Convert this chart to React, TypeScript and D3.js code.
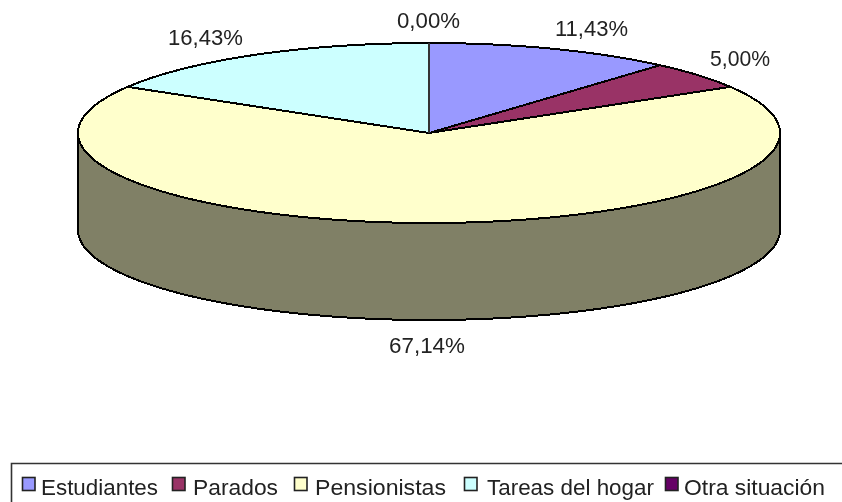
import React from "react";
import * as d3 from "d3";

const categories = ["Estudiantes", "Parados", "Pensionistas", "Tareas del hogar", "Otra situación"];
const values = [11.43, 5.0, 67.14, 16.43, 0.0];
const valueLabels = ["11,43%", "5,00%", "67,14%", "16,43%", "0,00%"];
const colors = ["#9999ff", "#993366", "#ffffcc", "#ccffff", "#660066"];
const sideColors = ["#4d4d80", "#4d1a33", "#808066", "#668080", "#330033"];
// label box: left, right, baseline
const labelBoxes: [number, number, number][] = [[555, 628, 36], [710, 770, 66], [389, 465, 353], [168, 243, 45], [397, 460, 28]];
const legendSwatch = [22, 172, 294, 464, 665];
const legendText: [number, number][] = [[41, 158], [193, 278], [315, 446], [487, 654], [684, 825]];

const F = "'Liberation Sans', Arial, sans-serif";
const cx = 429, cy = 133, rx = 351, ry = 90, depth = 97;
const sx = d3.scaleLinear().domain([-1, 1]).range([cx - rx, cx + rx]);
const sy = d3.scaleLinear().domain([-1, 1]).range([cy - ry, cy + ry]);
const pt = (a: number, dy = 0): [number, number] => [sx(Math.sin(a)), sy(-Math.cos(a)) + dy];

const arcs = d3.pie<number>().sort(null).startAngle(0).endAngle(2 * Math.PI)(values);
const line = d3.line();

function wedge(a0: number, a1: number) {
  const n = Math.max(2, Math.ceil((a1 - a0) * 60));
  const pts: [number, number][] = [[cx, cy]];
  for (let i = 0; i <= n; i++) pts.push(pt(a0 + ((a1 - a0) * i) / n));
  return line(pts) + "Z";
}
function side(a0: number, a1: number) {
  const lo = Math.max(a0, Math.PI / 2), hi = Math.min(a1, (3 * Math.PI) / 2);
  if (hi <= lo) return null;
  const n = Math.ceil((hi - lo) * 60);
  const top: [number, number][] = [], bot: [number, number][] = [];
  for (let i = 0; i <= n; i++) {
    const a = lo + ((hi - lo) * i) / n;
    top.push(pt(a));
    bot.unshift(pt(a, depth));
  }
  return line([...top, ...bot]) + "Z";
}

const textBlur = { filter: "blur(0.45px)" };

export default function App() {
  return (
    <svg width={842} height={502} style={{ position: "absolute", left: 0, top: 0, background: "#fff" }}>
      <g stroke="#000" strokeWidth={2} shapeRendering="crispEdges">
        {arcs.map((d, i) => {
          const p = side(d.startAngle, d.endAngle);
          return p ? <path key={i} d={p} fill={sideColors[i]} /> : null;
        })}
        {arcs.map((d, i) =>
          d.endAngle > d.startAngle ? <path key={i} d={wedge(d.startAngle, d.endAngle)} fill={colors[i]} /> : null
        )}
        <line x1={cx} y1={cy} x2={cx} y2={cy - ry} stroke="#333" />
      </g>
      <g fontFamily={F} fontSize={22} fill="#222" style={textBlur}>
        {valueLabels.map((t, i) => (
          <text key={i} x={labelBoxes[i][0]} y={labelBoxes[i][2]} textLength={labelBoxes[i][1] - labelBoxes[i][0]} lengthAdjust="spacingAndGlyphs">{t}</text>
        ))}
      </g>
      <path d="M842 463.5H11.5V502" fill="none" stroke="#333" strokeWidth={1.6} />
      {categories.map((c, i) => (
        <g key={c}>
          <rect x={legendSwatch[i] + 0.5} y={477.5} width={12.5} height={13} fill={colors[i]} stroke="#222" strokeWidth={1.6} />
          <text x={legendText[i][0]} y={494.5} textLength={legendText[i][1] - legendText[i][0]} lengthAdjust="spacingAndGlyphs" fontFamily={F} fontSize={22} fill="#222" style={textBlur}>{c}</text>
        </g>
      ))}
    </svg>
  );
}
